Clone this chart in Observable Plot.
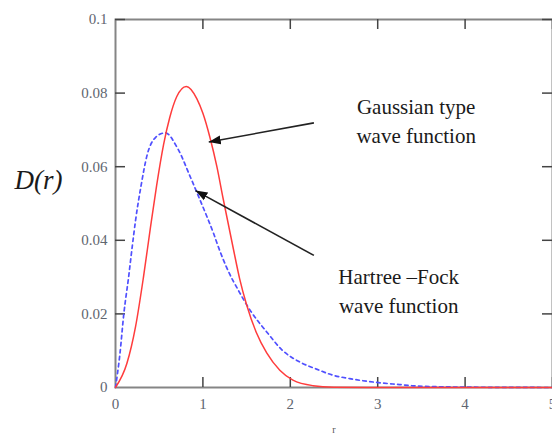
<!DOCTYPE html>
<html><head><meta charset="utf-8">
<script src="https://cdn.jsdelivr.net/npm/d3@7"></script>
<script src="https://cdn.jsdelivr.net/npm/@observablehq/plot@0.6"></script>
<style>body{margin:0;background:#fff}#chart{width:552px;height:437px}</style>
</head><body><div id="chart"></div>
<script>
// Gaussian type wave function: radial distribution D(r)
const gaussR = [0, 0.13, 0.23, 0.32, 0.40, 0.47, 0.55, 0.62, 0.70, 0.81, 0.93, 1.0, 1.08, 1.16, 1.23, 1.35, 1.42, 1.5, 1.61, 1.73, 1.88, 2.03, 2.26, 2.5, 3, 4, 5];
const gaussD = [0, 0.0065, 0.0166, 0.030, 0.0435, 0.0548, 0.0660, 0.0733, 0.0790, 0.0818, 0.0785, 0.0745, 0.068, 0.060, 0.0515, 0.0375, 0.0296, 0.0225, 0.0150, 0.0094, 0.0047, 0.0020, 0.0005, 0.0001, 0, 0, 0];
// Hartree-Fock wave function
const hfR = [0, 0.05, 0.095, 0.15, 0.19, 0.23, 0.29, 0.36, 0.46, 0.57, 0.71, 0.86, 0.97, 1.05, 1.12, 1.18, 1.27, 1.42, 1.54, 1.73, 1.91, 2.11, 2.30, 2.48, 2.68, 2.98, 3.25, 3.44, 4, 5];
const hfD = [0, 0.009, 0.020, 0.030, 0.038, 0.0455, 0.0545, 0.0630, 0.0680, 0.0692, 0.0650, 0.0570, 0.0508, 0.0462, 0.0420, 0.0380, 0.0327, 0.0258, 0.0210, 0.0151, 0.0101, 0.0069, 0.0050, 0.0034, 0.0024, 0.0014, 0.0008, 0.0004, 0.0001, 0];

const xTicks = [0, 1, 2, 3, 4, 5];
const xTickLabels = ["0", "1", "2", "3", "4", "5"];
const yTicks = [0, 0.02, 0.04, 0.06, 0.08, 0.1];
const yTickLabels = ["0", "0.02", "0.04", "0.06", "0.08", "0.1"];

const noteTexts = ["Gaussian type\nwave function", "Hartree \u2013Fock\nwave function"];
const noteX = [3.44, 3.24];
const noteY = [0.0729, 0.0266];
const arrowFromX = [2.27, 2.27];
const arrowFromY = [0.0719, 0.0359];
const arrowToX = [1.067, 0.915];
const arrowToY = [0.0667, 0.0535];

const gauss = gaussR.map((r, i) => ({r, d: gaussD[i]}));
const hf = hfR.map((r, i) => ({r, d: hfD[i]}));
const notes = noteTexts.map((t, i) => ({t, x: noteX[i], y: noteY[i]}));
const arrows = arrowFromX.map((x1, i) => ({x1, y1: arrowFromY[i], x2: arrowToX[i], y2: arrowToY[i]}));

function triHead(color, context) {
  const doc = (context && context.document) || document;
  const ns = "http://www.w3.org/2000/svg";
  const m = doc.createElementNS(ns, "marker");
  m.setAttribute("viewBox", "-12 -5 12 10");
  m.setAttribute("markerWidth", "12");
  m.setAttribute("markerHeight", "10");
  m.setAttribute("markerUnits", "userSpaceOnUse");
  m.setAttribute("orient", "auto");
  m.setAttribute("refX", "0");
  m.setAttribute("refY", "0");
  const p = doc.createElementNS(ns, "path");
  p.setAttribute("d", "M-12,-4.5L0,0L-12,4.5Z");
  p.setAttribute("fill", "#111");
  p.setAttribute("stroke", "none");
  m.appendChild(p);
  return m;
}

const W = 552, H = 437, ML = 115, MT = 19, MB = 50, MR = 0;
const fw = W - ML - MR, fh = H - MT - MB, tl = 10;

const chart = Plot.plot({
  width: W, height: H,
  marginLeft: ML, marginTop: MT, marginBottom: MB, marginRight: MR,
  style: {fontFamily: "'Liberation Serif', 'Times New Roman', serif", fontSize: "15px", background: "#fff", overflow: "visible"},
  x: {domain: [0, 5], axis: null},
  y: {domain: [0, 0.1], axis: null},
  marks: [
    Plot.frame({stroke: "#858585", strokeWidth: 2}),
    Plot.tickY(yTicks.slice(1), {y: d => d, stroke: "#444", strokeWidth: 1.5, insetRight: fw - tl}),
    Plot.tickY(yTicks.slice(1), {y: d => d, stroke: "#444", strokeWidth: 1.5, insetLeft: fw - tl}),
    Plot.tickX(xTicks.slice(1), {x: d => d, stroke: "#444", strokeWidth: 1.5, insetTop: fh - tl}),
    Plot.tickX(xTicks.slice(1), {x: d => d, stroke: "#444", strokeWidth: 1.5, insetBottom: fh - tl}),
    Plot.text(yTicks, {y: d => d, text: (d, i) => yTickLabels[i], frameAnchor: "left", dx: -8, textAnchor: "end", lineAnchor: "middle", fontSize: 15, fill: "#5f6670"}),
    Plot.text(xTicks, {x: d => d, text: (d, i) => xTickLabels[i], frameAnchor: "bottom", dy: 17, textAnchor: "middle", lineAnchor: "middle", fontSize: 15, fill: "#5f6670"}),
    Plot.line(hf, {x: "r", y: "d", stroke: "#5050ff", strokeWidth: 1.7, strokeDasharray: "3.5,3.5", curve: "monotone-x"}),
    Plot.line(gauss, {x: "r", y: "d", stroke: "#ff3c3c", strokeWidth: 1.5, curve: "monotone-x"}),
    Plot.link(arrows, {x1: "x1", y1: "y1", x2: "x2", y2: "y2", stroke: "#222", strokeWidth: 1.6, markerEnd: triHead}),
    Plot.text(notes, {x: "x", y: "y", text: "t", fontSize: 21, lineHeight: 1.38, fill: "#1a1a1a", textAnchor: "middle"}),
    Plot.text(["D(r)"], {text: d => d, frameAnchor: "left", dx: -77, dy: -23, fontSize: 27, fontStyle: "italic", fill: "#1a1a1a", textAnchor: "middle"}),
    Plot.text(["r"], {text: d => d, frameAnchor: "bottom", dy: 45, fontSize: 10, fill: "#555"})
  ]
});
document.getElementById("chart").appendChild(chart);
</script>
</body></html>
